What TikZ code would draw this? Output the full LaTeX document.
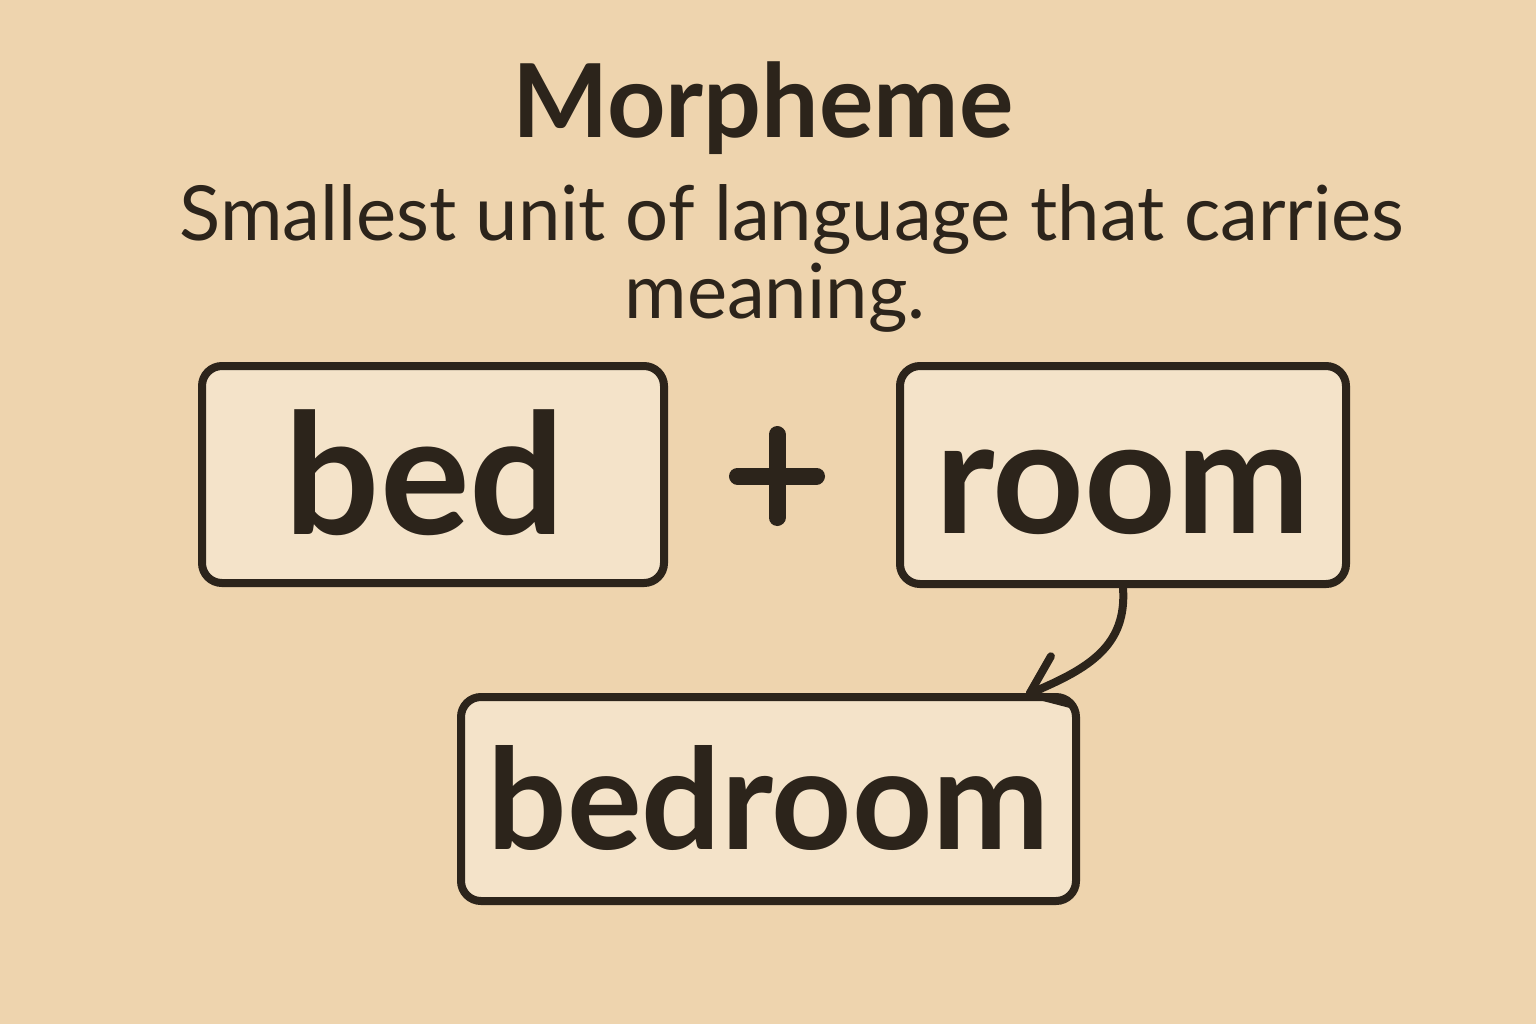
\documentclass[tikz,border=0pt]{standalone}
\usepackage{fontspec}
\setmainfont{Lato}
\newcommand\semib{\bfseries}
\usetikzlibrary{arrows.meta}
\definecolor{bgc}{RGB}{238,212,174}
\definecolor{boxc}{RGB}{244,227,201}
\definecolor{ink}{RGB}{44,36,27}
\tikzset{
  wordbox/.style={draw=ink, fill=boxc, line width=4pt, rounded corners=10pt, text=ink,
    inner sep=0pt, text height=58pt, text depth=0pt},
  subtxt/.style={text=ink, anchor=base, font=\fontsize{38}{40}\selectfont},
  conn/.style={draw=ink, line width=4pt, line cap=round, -{Straight Barb[length=17pt,width=26pt,line width=4pt,round]}}
}
\begin{document}
\begin{tikzpicture}[x=0.5pt,y=-0.5pt]
\useasboundingbox[fill=bgc] (0,0) rectangle (1536,1024);
\node[text=ink, anchor=base] (title) at (763,137) {\semib\fontsize{51}{55}\selectfont Morpheme};
\node[subtxt] (sub1) at (792,240) {Smallest unit of language that carries};
\node[subtxt] (sub2) at (775,318) {meaning.};
\node[wordbox, minimum width=231pt, minimum height=108.5pt, text height=60pt] (bed) at (433,474.5)
  {\semib\fontsize{84}{84}\selectfont bed\hspace*{8pt}};
\node[wordbox, minimum width=223pt, minimum height=109pt] (room) at (1123,475)
  {\semib\fontsize{80}{80}\selectfont room};
\node[wordbox, minimum width=307.5pt, minimum height=102pt, text height=50pt] (bedroom) at (768.5,799)
  {\semib\fontsize{70}{70}\selectfont bedroom};
\coordinate (pc) at (777,476);
\draw[ink, line width=8.5pt, line cap=round] ([xshift=-19.75pt]pc) -- ([xshift=19.75pt]pc)
  ([yshift=20.75pt]pc) -- ([yshift=-20.75pt]pc);
\coordinate (tip) at ([xshift=-27pt,yshift=-1pt]bedroom.north east);
\draw[conn] (room.south) .. controls (1127,645) and (1090,668) .. (tip);
\end{tikzpicture}
\end{document}
